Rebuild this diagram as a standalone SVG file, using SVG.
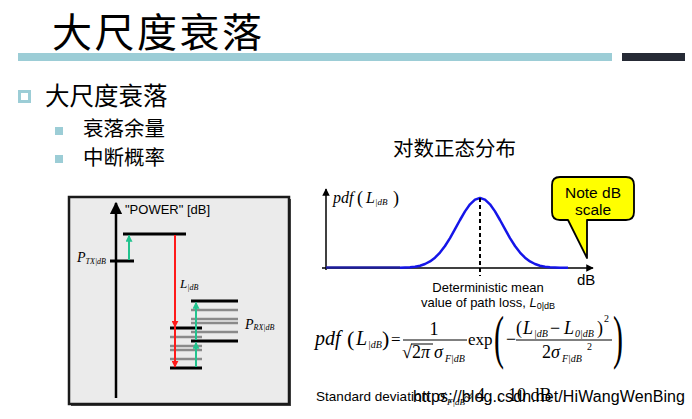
<svg xmlns="http://www.w3.org/2000/svg" width="692" height="419" viewBox="0 0 692 419">
<style>
.cjk{font-family:"Noto Sans CJK SC","Liberation Sans",sans-serif;fill:#000}
.sans{font-family:"Liberation Sans",Arial,sans-serif;fill:#000}
.m{font-family:"Liberation Serif","Times New Roman",serif;fill:#000}
.i{font-style:italic}
.lvl{stroke:#000;stroke-width:3}
.gry{stroke:#8a8a8a;stroke-width:2.5}
.grn{stroke:#22c38e;stroke-width:2;fill:none}
.red{stroke:#ff1a1a;stroke-width:2;fill:none}
.ax{stroke:#000;fill:none}
</style>
<defs>
<marker id="ab" viewBox="0 0 10 10" refX="9" refY="5" markerWidth="5" markerHeight="5" orient="auto"><path d="M0,0 L10,5 L0,10 z" fill="#000"/></marker>
<marker id="ag" viewBox="0 0 10 10" refX="9" refY="5" markerWidth="3.5" markerHeight="3.5" orient="auto"><path d="M0,0 L10,5 L0,10 z" fill="#22c38e"/></marker>
<marker id="ar" viewBox="0 0 10 10" refX="9" refY="5" markerWidth="3.5" markerHeight="3.5" orient="auto"><path d="M0,0 L10,5 L0,10 z" fill="#ff1a1a"/></marker>
</defs>
<rect width="692" height="419" fill="#fff"/>

<g id="title">
<text class="cjk" x="52" y="47" font-size="40" textLength="210">大尺度衰落</text>
<rect x="18" y="53" width="594" height="8" fill="#9ccdd6"/>
<rect x="622" y="53" width="63" height="8" fill="#262a35"/>
</g>

<g id="bullets">
<rect x="19.5" y="91.5" width="10" height="10" fill="#fff" stroke="#9ccdd6" stroke-width="3"/>
<text class="cjk" x="45" y="105" font-size="24.5">大尺度衰落</text>
<rect x="55" y="127" width="8" height="8" fill="#9ccdd6"/>
<text class="cjk" x="83" y="136" font-size="20.5">衰落余量</text>
<rect x="55" y="155" width="8" height="8" fill="#9ccdd6"/>
<text class="cjk" x="83" y="165" font-size="20.5">中断概率</text>
<text class="cjk" x="393" y="156" font-size="20.5">对数正态分布</text>
</g>

<g id="power-diagram">
<rect x="71" y="199" width="220" height="207" fill="#4a4a4a"/>
<rect x="69" y="197" width="220" height="207" fill="#ebebeb" stroke="#1a1a1a" stroke-width="2.5"/>
<line class="ax" x1="116" y1="398" x2="116" y2="203" stroke-width="2.5" marker-end="url(#ab)"/>
<text class="sans" x="125" y="214" font-size="13">"POWER" [dB]</text>
<line class="lvl" x1="123" y1="234" x2="186" y2="234"/>
<line class="lvl" x1="110" y1="261" x2="134" y2="261"/>
<line class="grn" x1="129" y1="260" x2="129" y2="235.5" marker-end="url(#ag)"/>
<text class="m i" x="77" y="262" font-size="14">P<tspan font-size="8" dy="2">TX|dB</tspan></text>
<g id="left-levels">
<line class="gry" x1="170" y1="337" x2="202" y2="337"/>
<line class="gry" x1="170" y1="346" x2="202" y2="346"/>
<line class="gry" x1="170" y1="350" x2="202" y2="350"/>
<line class="gry" x1="170" y1="359" x2="202" y2="359"/>
</g>
<g id="right-levels">
<line class="gry" x1="191" y1="310" x2="238" y2="310"/>
<line class="gry" x1="191" y1="319" x2="238" y2="319"/>
<line class="gry" x1="191" y1="323" x2="238" y2="323"/>
<line class="gry" x1="191" y1="332" x2="238" y2="332"/>
</g>
<line class="lvl" x1="170" y1="328" x2="202" y2="328"/>
<line class="lvl" x1="170" y1="368" x2="202" y2="368"/>
<line class="lvl" x1="191" y1="301" x2="238" y2="301"/>
<line class="lvl" x1="191" y1="341" x2="238" y2="341"/>
<line class="red" x1="175" y1="235" x2="175" y2="327" marker-end="url(#ar)"/>
<line class="red" x1="175" y1="327" x2="175" y2="367" marker-end="url(#ar)"/>
<line class="grn" x1="196" y1="340" x2="196" y2="302.5" marker-end="url(#ag)"/>
<line class="grn" x1="196" y1="367" x2="196" y2="342.5" marker-end="url(#ag)"/>
<text class="m i" x="180" y="288" font-size="13">L<tspan font-size="8" dy="2">|dB</tspan></text>
<text class="m i" x="245" y="329" font-size="14">P<tspan font-size="8" dy="1">RX|dB</tspan></text>
</g>

<g id="pdf-chart">
<line class="ax" x1="326" y1="270" x2="326" y2="189" stroke-width="1.5" marker-end="url(#ab)"/>
<line class="ax" x1="322" y1="268" x2="593" y2="268" stroke-width="1.5" marker-end="url(#ab)"/>
<path d="M326,267.6 L400,267.6" stroke="#1c1c9c" stroke-width="2.5" fill="none"/>
<path d="M400,267.8 L410,267.3 415,266.7 420,265.7 425,264 430,261.4 435,257.7 440,252.6 445,246 450,238.1 455,229.2 460,220 465,211.4 470,204.3 475,199.6 480,198 485,199.6 490,204.3 495,211.4 500,220 505,229.2 510,238.1 515,246 520,252.6 525,257.7 530,261.4 535,264 540,265.7 545,266.7 550,267.3 560,267.8 568,267.8" stroke="#1515e8" stroke-width="2.5" fill="none" stroke-linejoin="round"/>
<line x1="480" y1="198" x2="480" y2="276" stroke="#000" stroke-width="2" stroke-dasharray="4,3"/>
<text class="m i" x="333" y="203" font-size="16">pdf</text>
<text class="m" x="357" y="204" font-size="18">(</text>
<text class="m i" x="366" y="203" font-size="16">L<tspan font-size="9" dy="2">|dB</tspan></text>
<text class="m" x="393" y="204" font-size="18">)</text>
<text class="sans" x="577" y="285" font-size="15">dB</text>
<text class="sans" x="488" y="292" font-size="13" text-anchor="middle">Deterministic mean</text>
<text class="sans" x="488" y="307" font-size="13" text-anchor="middle">value of path loss, <tspan font-style="italic">L</tspan><tspan font-size="9" dy="2">0|dB</tspan></text>
</g>

<g id="callout">
<path d="M560,177 H626 Q634,177 634,185 V212 Q634,220 626,220 H587 V258 L568,220 H560 Q552,220 552,212 V185 Q552,177 560,177 Z" fill="#ffff00" stroke="#000" stroke-width="1.8" stroke-linejoin="round"/>
<text class="sans" x="593" y="198" font-size="15.5" text-anchor="middle">Note dB</text>
<text class="sans" x="593" y="215" font-size="15.5" text-anchor="middle">scale</text>
</g>

<g id="formula">
<text class="m i" x="315" y="345" font-size="20">pdf</text>
<text class="m" x="347" y="346" font-size="22">(</text>
<text class="m i" x="356" y="345" font-size="20">L</text>
<text class="m i" x="368" y="348" font-size="10">|dB</text>
<text class="m" x="382" y="346" font-size="22">)</text>
<text class="m" x="391" y="345" font-size="17">=</text>
<line x1="403" y1="340" x2="467" y2="340" stroke="#000" stroke-width="1"/>
<text class="m" x="434" y="335" font-size="18" text-anchor="middle">1</text>
<text class="m" x="402" y="358" font-size="18">√</text>
<line x1="411" y1="344" x2="433" y2="344" stroke="#000" stroke-width="1"/>
<text class="m" x="412" y="358" font-size="18">2<tspan font-style="italic">π</tspan></text>
<text class="m i" x="434" y="358" font-size="18">σ</text>
<text class="m i" x="445" y="362" font-size="10">F|dB</text>
<text class="m" x="468" y="345" font-size="17">exp</text>
<text class="m" font-size="60" fill="#444" transform="translate(494,357) scale(0.5,1)">(</text>
<text class="m" x="506" y="345" font-size="18">−</text>
<text class="m" x="516" y="334" font-size="18">(</text>
<text class="m i" x="523" y="334" font-size="18">L</text>
<text class="m i" x="534" y="337" font-size="10">|dB</text>
<text class="m" x="550" y="334" font-size="18">−</text>
<text class="m i" x="564" y="334" font-size="18">L</text>
<text class="m i" x="575" y="337" font-size="10">0|dB</text>
<text class="m" x="597" y="334" font-size="18">)</text>
<text class="m" x="604" y="322" font-size="10">2</text>
<line x1="516" y1="340" x2="612" y2="340" stroke="#000" stroke-width="1"/>
<text class="m" x="542" y="358" font-size="18">2</text>
<text class="m i" x="551" y="358" font-size="18">σ</text>
<text class="m i" x="562" y="362" font-size="10">F|dB</text>
<text class="m" x="587" y="350" font-size="10">2</text>
<text class="m" font-size="60" fill="#444" transform="translate(613,357) scale(0.5,1)">)</text>
</g>

<g id="std">
<text class="sans" x="413" y="402" font-size="16" textLength="272" fill="#d2d2d2">https://blog.csdn.net/HiWangWenBing</text>
<text class="sans" x="316" y="401" font-size="13.5" textLength="113">Standard deviation</text>
<text class="m i" x="437" y="401" font-size="17">σ</text>
<text class="m i" x="447" y="405" font-size="9">F|dB</text>
<text class="m" x="464" y="401" font-size="15">≈</text>
<text class="m" x="476" y="401" font-size="18">4</text>
<text class="m" x="488" y="401" font-size="18">. .</text>
<text class="m" x="508" y="401" font-size="18">10 dB</text>
</g>
</svg>
